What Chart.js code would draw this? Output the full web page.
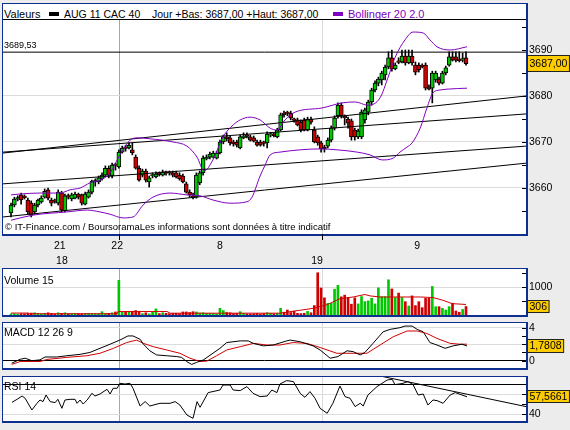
<!DOCTYPE html>
<html><head><meta charset="utf-8">
<script src="https://cdn.jsdelivr.net/npm/chart.js@4.4.1/dist/chart.umd.min.js"></script>
<style>
html,body{margin:0;padding:0;background:#ececec;}
body{width:570px;height:430px;position:relative;overflow:hidden;font-family:"Liberation Sans",Arial,sans-serif;}
.box{position:absolute;box-sizing:border-box;background:#fff;border-style:solid;border-color:#0d2f8f;border-width:1px 2px 2px 1px;}
canvas{position:absolute;left:3px;}
.t{position:absolute;white-space:nowrap;color:#000;line-height:normal;font-size:10.5px;}
.sq{position:absolute;width:10px;height:4px;}
</style></head><body>
<div class="box" style="left:2px;top:3px;width:526px;height:233px"></div>
<div style="position:absolute;left:3px;top:4px;width:523px;height:15px;border-bottom:1px solid #000"></div>
<div class="box" style="left:2px;top:268px;width:526px;height:49px"></div>
<div class="box" style="left:2px;top:322px;width:526px;height:48px"></div>
<div class="box" style="left:2px;top:376px;width:526px;height:47px"></div>
<canvas id="cMain" width="567" height="249" style="top:20px"></canvas>
<canvas id="cVol" width="567" height="46" style="top:269px"></canvas>
<canvas id="cMacd" width="567" height="45" style="top:323px"></canvas>
<canvas id="cRsi" width="567" height="44" style="top:377px"></canvas>
<div class="t" style="left:4px;top:8px;font-size:11px">Valeurs</div>
<div class="sq" style="left:49px;top:12px;background:#000"></div>
<div class="t" style="left:64px;top:8px">AUG 11 CAC 40</div>
<div class="t" style="left:152px;top:8px">Jour +Bas: 3687,00 +Haut: 3687,00</div>
<div class="sq" style="left:333px;top:12px;background:#8000c0"></div>
<div class="t" style="left:348px;top:8px;color:#8000c0;font-size:11px">Bollinger 20 2.0</div>
<div class="t" style="left:5px;top:221px;font-size:9.5px">© IT-Finance.com / BoursoramaLes informations sont données à titre indicatif</div>
<div class="t" style="left:4px;top:274px">Volume 15</div>
<div class="t" style="left:4px;top:326px">MACD 12 26 9</div>
<div class="t" style="left:4px;top:380px">RSI 14</div>
<script>
// ---------- DATA ----------
const open = [
3654.6,3656.3,3657.6,3658.5,3658.0,3657.4,3656.7,3654.8,3656.3,3657.0,
3658.0,3659.6,3657.4,3657.2,3656.7,3658.9,3655.0,3658.3,3657.6,3657.8,
3658.7,3658.5,3656.5,3658.0,3659.1,3661.3,3661.3,3662.0,3662.8,3664.3,
3662.6,3665.0,3664.6,3667.8,3668.7,3668.7,3668.3,3666.7,3664.3,3662.8,
3663.7,3661.3,3662.6,3662.4,3663.0,3662.8,3663.3,3663.3,3663.3,3663.3,
3662.8,3662.6,3660.9,3659.1,3658.0,3658.0,3661.1,3663.3,3666.3,3666.7,
3666.7,3666.5,3667.6,3670.0,3671.1,3670.9,3670.0,3670.0,3668.7,3670.9,
3671.3,3671.1,3670.9,3670.0,3670.0,3669.8,3669.8,3671.5,3671.5,3671.1,
3672.6,3676.3,3676.3,3676.3,3674.8,3674.8,3674.3,3674.8,3672.6,3675.0,
3672.6,3671.1,3669.8,3668.9,3669.1,3670.4,3673.0,3675.7,3678.0,3675.4,
3675.0,3674.6,3672.6,3671.1,3671.1,3674.8,3676.5,3678.7,3681.3,3682.8,
3683.5,3684.6,3686.3,3688.3,3685.9,3687.4,3687.4,3688.7,3687.2,3688.7,
3686.7,3686.7,3686.5,3686.7,3682.0,3681.7,3683.5,3683.7,3682.8,3685.0,
3686.7,3688.5,3688.5,3687.8,3687.8,3688.3];
const high = [
3656.7,3658.0,3658.3,3658.9,3658.5,3657.8,3657.2,3656.7,3657.6,3658.3,
3659.8,3660.0,3657.8,3657.6,3659.6,3659.3,3658.7,3658.7,3658.9,3659.1,
3658.9,3658.7,3659.1,3659.6,3661.7,3662.0,3662.6,3663.3,3664.8,3664.8,
3665.4,3665.4,3668.3,3669.1,3669.3,3669.8,3669.8,3667.2,3664.8,3664.1,
3664.1,3662.6,3663.3,3663.5,3663.5,3663.9,3663.7,3663.7,3663.7,3663.7,
3663.3,3663.0,3661.3,3659.6,3658.9,3663.3,3663.7,3667.0,3667.2,3667.8,
3668.0,3668.0,3670.4,3671.5,3672.0,3671.3,3670.4,3670.4,3671.5,3672.0,
3672.0,3671.5,3671.3,3670.4,3670.4,3670.2,3672.2,3672.0,3672.0,3673.0,
3676.3,3676.7,3676.7,3676.7,3675.2,3675.2,3674.8,3675.2,3675.4,3675.4,
3673.3,3671.5,3670.2,3669.3,3670.9,3673.5,3675.7,3678.5,3678.5,3675.9,
3675.4,3675.0,3673.0,3672.8,3677.0,3677.4,3679.1,3681.7,3683.3,3684.1,
3685.4,3686.7,3689.6,3690.0,3687.2,3688.3,3690.0,3690.0,3690.0,3690.0,
3687.4,3687.2,3687.0,3687.2,3682.4,3685.4,3685.4,3684.1,3685.4,3686.5,
3689.6,3689.6,3689.6,3689.6,3689.3,3689.6];
const low = [
3653.7,3655.9,3657.2,3656.5,3657.6,3654.3,3653.7,3654.3,3655.9,3656.7,
3657.8,3657.4,3656.1,3656.7,3656.3,3654.8,3654.8,3657.6,3657.2,3657.6,
3657.6,3656.3,3656.3,3657.8,3658.7,3660.4,3660.9,3661.7,3662.4,3662.2,
3662.2,3663.9,3664.3,3667.6,3668.0,3668.5,3667.2,3664.1,3661.5,3662.4,
3661.3,3660.2,3662.2,3662.2,3662.6,3662.6,3662.8,3662.8,3662.4,3662.2,
3661.7,3661.1,3658.9,3658.0,3657.6,3657.8,3660.7,3662.8,3666.1,3666.3,
3666.5,3666.3,3667.4,3669.6,3670.2,3669.3,3669.1,3668.9,3668.5,3670.7,
3670.9,3670.2,3670.0,3669.1,3669.1,3669.1,3668.7,3671.1,3671.1,3670.9,
3672.4,3675.4,3675.7,3674.8,3674.3,3673.5,3672.2,3672.4,3672.4,3673.9,
3669.8,3669.3,3667.8,3667.8,3668.7,3670.0,3672.6,3675.2,3675.2,3673.7,
3673.0,3670.4,3670.4,3670.7,3670.7,3674.1,3675.9,3678.0,3680.9,3682.2,
3682.4,3683.5,3685.9,3685.4,3685.7,3687.0,3687.2,3686.7,3687.0,3686.7,
3684.6,3685.2,3686.1,3681.3,3681.3,3678.5,3683.0,3682.4,3682.6,3684.6,
3686.5,3687.6,3687.4,3687.4,3687.4,3686.7];
const close = [
3656.3,3657.6,3657.8,3657.4,3657.9,3654.8,3654.1,3656.3,3657.4,3657.8,
3659.3,3657.8,3656.7,3657.1,3659.1,3655.2,3658.3,3658.0,3658.5,3658.7,
3658.0,3656.7,3658.7,3659.1,3661.5,3661.5,3662.2,3662.8,3664.3,3662.8,
3665.0,3664.9,3667.8,3668.7,3668.6,3669.3,3667.6,3664.3,3661.7,3663.7,
3661.7,3662.2,3662.8,3663.0,3662.9,3663.5,3663.2,3663.2,3662.8,3662.4,
3662.0,3661.3,3659.1,3658.5,3657.9,3662.8,3663.3,3666.5,3666.7,3667.4,
3667.6,3667.6,3670.0,3671.1,3670.7,3669.8,3669.6,3669.3,3671.1,3671.3,
3671.2,3670.4,3670.2,3669.3,3669.3,3669.7,3671.7,3671.6,3671.4,3672.6,
3675.9,3675.9,3676.2,3675.2,3674.7,3673.7,3672.6,3672.6,3675.0,3674.3,
3670.0,3669.8,3668.5,3668.5,3670.4,3673.0,3675.2,3678.0,3675.7,3675.3,
3674.1,3671.1,3671.1,3672.4,3676.5,3677.0,3678.7,3681.3,3682.8,3683.7,
3685.0,3686.3,3688.3,3685.9,3686.7,3687.3,3688.7,3687.2,3688.7,3687.2,
3685.2,3685.7,3686.4,3681.7,3681.5,3685.0,3685.0,3682.8,3685.0,3686.1,
3688.5,3687.8,3687.8,3687.7,3687.9,3687.0];
const volume = [
40,45,30,50,45,70,70,80,60,40,
55,80,55,30,80,60,80,40,50,55,
45,40,60,50,55,40,45,120,45,60,
80,110,1250,110,130,110,130,160,110,50,
80,40,110,220,50,80,60,50,60,60,
50,110,110,90,120,110,70,80,60,60,
50,40,240,160,90,80,50,60,120,50,
40,30,40,60,30,50,80,60,40,60,
240,100,180,90,140,60,50,60,130,80,
340,1525,975,620,420,420,930,1070,655,715,
630,390,620,400,665,485,510,605,400,980,
660,660,1270,940,630,790,630,480,325,690,
340,480,265,600,600,1030,300,300,240,180,
300,425,145,100,200,306];
const volMaIdx = [0,4.7,5.6,31.5,31.8,46.3,47.2,79.8,89.6,93.8,97.6,101.5,105,106.5,109.5,113.4,117.5,121.4,125.2,128.2,130.9,135];
const volMaVal = [70,70,45,45,125,125,65,65,240,370,590,650,740,690,650,650,650,650,630,530,410,380];

const bbUpIdx = [0,2.7,8.6,14.5,17.5,20.5,23.4,26.4,29.4,31.8,33.8,35.3,37.4,41.2,48.1,52.2,55.2,57.3,59.9,62.9,65.9,68.0,70.9,73.9,76.9,78.9,81.3,84.3,92.3,98.2,102.1,105.9,109.5,111.9,113.9,116.9,119.3,122.3,124.3,126.4,130.3,135.3];
const bbUpper = [3658.5,3658.7,3658.9,3658.9,3659.6,3660.0,3661.1,3661.7,3663.3,3666.5,3668.9,3670.4,3670.9,3670.7,3670.0,3669.1,3666.7,3663.7,3666.1,3671.1,3673.7,3674.8,3675.4,3674.8,3673.0,3672.6,3674.8,3676.5,3677.4,3678.5,3678.7,3678.0,3679.6,3684.1,3688.3,3692.2,3693.9,3693.7,3692.2,3690.7,3690.0,3690.7];
const bbLowIdx = [0,6.5,16.6,22.6,26.4,29.4,33.2,36.2,39.2,42.1,47.2,52.2,56.1,59.9,65.0,70.0,71.5,73.9,75.4,76.9,79.8,85.8,91.7,96.7,102.7,106.5,110.1,113.4,115.4,117.5,119.0,121.4,123.4,125.2,127.3,129.7,135.3];
const bbLower = [3653.0,3654.1,3654.8,3655.2,3654.8,3654.3,3653.5,3653.7,3656.3,3658.0,3658.9,3658.5,3658.3,3657.4,3656.7,3657.0,3658.0,3662.6,3665.0,3667.2,3667.8,3668.3,3668.5,3668.3,3667.8,3667.2,3666.1,3666.5,3667.8,3668.9,3669.8,3673.0,3677.4,3680.7,3681.3,3681.5,3681.7];

const trendStart = [3667.6, 3667.8, 3660.9, 3653.7];
const trendEnd   = [3680.0, 3676.1, 3669.1, 3665.4];
const levelValue = 3689.53;

const macdIdx = [0.2,2.7,4.2,6.2,8.6,10.1,13.6,16.6,20.5,23.4,26.4,29.4,32.3,34.7,36.2,38.3,39.3,41.2,43.2,46.2,49.2,50.6,52.1,53.6,55.1,57.1,62.0,64.0,68.0,70.4,71.9,74.9,77.8,81.8,82.8,85.8,89.6,91.7,94.7,97.0,99.7,101.5,103.6,105.0,107.4,110.4,112.5,115.4,116.9,119.0,120.5,122.3,124.3,126.4,128.8,131.2,133.8,135.3];
const macdVal = [-0.3,0.17,0.3,0.0,0.1,0.45,0.45,0.6,0.77,1.0,1.5,2.0,2.5,3.0,3.0,2.6,2.0,1.2,0.7,0.6,0.5,0.4,-0.1,-0.45,-0.2,0.1,1.5,2.2,2.4,2.4,2.1,1.8,1.9,2.4,2.5,2.3,1.8,1.3,0.3,0.5,1.2,1.1,0.7,1.0,2.1,3.5,3.8,4.0,4.2,4.2,3.8,3.5,2.2,1.9,1.5,1.8,2.0,1.7808];
const sigIdx = [0.2,2.7,8.6,10.6,16.5,22.5,26.4,30.4,34.3,37.3,39.3,42.2,46.2,50.1,53.1,56.1,58.1,61.0,64.0,68.0,71.9,75.9,79.8,83.7,87.8,91.7,96.7,101.5,105.6,109.5,113.4,117.5,120.5,123.4,126.4,130.3,133.2,135.3];
const sigVal = [-0.45,-0.1,-0.1,0.15,0.4,0.6,0.9,1.5,2.2,2.5,2.1,1.7,1.3,0.9,0.3,-0.1,-0.05,0.6,1.3,1.7,2.1,1.9,1.9,2.2,2.1,1.6,0.9,0.9,0.9,1.9,2.9,3.6,3.6,3.3,2.7,2.1,2.0,2.0];

const rsiIdx = [0.3,1.8,3.3,4.2,6.2,7.7,8.6,9.5,10.4,11.6,13.1,13.9,15.1,16.0,17.5,19.0,19.6,20.5,21.4,22.6,24.0,24.9,26.4,28.5,29.4,30.3,31.5,32.3,33.8,35.3,36.2,38.3,39.8,41.2,44.2,47.2,48.7,50.1,52.2,54.0,55.2,56.1,58.5,62.0,62.9,65.0,65.9,68.0,70.0,71.8,73.9,76.0,77.4,78.9,79.8,81.8,83.8,85.8,87.2,88.7,90.2,91.7,93.8,95.5,97.6,99.1,100.6,102.1,103.6,104.5,105.9,108.6,111.6,113.1,113.9,116.0,117.8,119.3,120.8,122.3,123.7,125.2,126.4,128.2,130.3,131.8,133.8,135.3];
const rsiVal = [52,55,58.3,56,44.3,51,54.3,52.7,59.3,52.7,51.7,55,46,54.3,55,55,51,54.3,50.3,54.3,61,58.3,60.3,65,60.3,66,66,71,70.3,71,66,48.3,52.7,48.3,51,51,52.7,49.3,39.3,36,52.7,47,61.7,64.3,69.3,69.3,64.3,63.7,67.7,61,57.7,58.3,64.3,61.7,70.3,73.7,72.7,61,57,62.7,56,46,41,51,68.3,57.7,56,47.7,51,48.3,59.3,67.7,74.3,75,69.7,70.7,72.7,69.7,59.3,60.3,49.3,54.3,53.7,51,59.3,61.7,59.3,57.5661];
const rsiTrendIdx = [110.4, 152.8];
const rsiTrendVal = [77.7, 47.7];

const priceTicks = [3655,3660,3665,3670,3675,3680,3685,3690,3695];
const volTicks = [500,1000,1500];
const macdTicks = [0,1,2,3,4];
const rsiTicks = [40,50,60,70];
const row1Idx = [14.5, 31.5, 62.0, 120.5];
const row1Labels = ['21','22','8','9'];
const row2Idx = [15.1, 90.8];
const row2Labels = ['18','19'];
const sessionIdx = [32.3, 92.3];

// ---------- STYLE / LAYOUT ----------
const F = '"Liberation Sans", Arial, sans-serif';
Chart.defaults.font.family = F;
const GREEN = '#00c800', RED = '#d00000', PURPLE = '#8000c0', GRID = '#dcdcdc';
const X_MIN = -2.374, X_MAX = 152.8;
const N = close.length;
const idx = close.map((_, i) => i);
const candleColor = idx.map(i => close[i] >= open[i] ? GREEN : RED);
const fmt = (v, d) => v.toFixed(d).replace('.', ',');
const pts = (xs, ys) => xs.map((x, k) => ({x, y: ys[k]}));

const valueBox = {
  id: 'valueBox',
  afterDraw(chart, args, o) {
    if (!o || o.value == null) return;
    const ctx = chart.ctx, y = chart.scales.y.getPixelForValue(o.value);
    ctx.save();
    ctx.font = '10.5px ' + F;
    const w = ctx.measureText(o.text).width;
    const x0 = chart.chartArea.right + 1, h = o.h || 14, top = Math.round(y - h / 2);
    ctx.fillStyle = '#ffcc00';
    ctx.fillRect(x0, top, w + 5, h);
    ctx.strokeStyle = '#222'; ctx.lineWidth = 1;
    ctx.strokeRect(x0 + 0.5, top + 0.5, w + 4, h - 1);
    ctx.fillStyle = '#000'; ctx.textBaseline = 'middle'; ctx.textAlign = 'left';
    ctx.fillText(o.text, x0 + 2.5, top + h / 2 + 0.5);
    ctx.restore();
  }
};
const innerTicks = {
  id: 'innerTicks',
  afterDraw(chart) {
    const s = chart.scales.y, ctx = chart.ctx, r = chart.chartArea.right;
    ctx.save(); ctx.strokeStyle = '#000'; ctx.lineWidth = 1;
    s.ticks.forEach(t => {
      const y = Math.round(s.getPixelForValue(t.value)) + 0.5;
      ctx.beginPath(); ctx.moveTo(r - 4, y); ctx.lineTo(r, y); ctx.stroke();
    });
    ctx.restore();
  }
};
const levelLabel = {
  id: 'levelLabel',
  afterDraw(chart, args, o) {
    if (!o || o.value == null) return;
    const ctx = chart.ctx, y = chart.scales.y.getPixelForValue(o.value);
    ctx.save(); ctx.font = '9px ' + F; ctx.fillStyle = '#000';
    ctx.textBaseline = 'alphabetic'; ctx.textAlign = 'left';
    ctx.fillText(o.text, chart.chartArea.left + 1, y - 4.5);
    ctx.restore();
  }
};

function yScale(min, max, ticks, labelFn, gridFn) {
  return {
    position: 'right', min, max, beginAtZero: false,
    afterBuildTicks: s => { s.ticks = ticks.map(v => ({value: v})); },
    afterFit: s => { s.width = 44; s.paddingTop = 0; s.paddingBottom = 0; },
    grid: { color: c => gridFn(c.tick ? c.tick.value : null), drawTicks: false, lineWidth: 1 },
    border: { display: false },
    ticks: { autoSkip: false, padding: 3, color: '#000', font: {family: F, size: 10.5}, callback: v => labelFn(v) }
  };
}
function xSession(tickLen) {
  return {
    type: 'linear', position: 'bottom', weight: 0, min: X_MIN, max: X_MAX, offset: false,
    afterBuildTicks: s => { s.ticks = sessionIdx.map(v => ({value: v})); },
    afterFit: s => { s.height = tickLen; s.paddingLeft = 0; s.paddingRight = 0; },
    grid: { offset: false, color: c => c.index === 0 ? '#a8a8a8' : '#dadada', drawTicks: tickLen > 0, tickLength: tickLen, tickColor: '#000' },
    border: { display: false },
    ticks: { display: false }
  };
}
function xRow(pos, labels, h, w) {
  return {
    type: 'linear', position: 'bottom', weight: w, min: X_MIN, max: X_MAX, offset: false,
    afterBuildTicks: s => { s.ticks = pos.map(v => ({value: v})); },
    afterFit: s => { s.height = h; s.paddingLeft = 0; s.paddingRight = 0; },
    grid: { display: false, drawTicks: false },
    border: { display: false },
    ticks: { autoSkip: false, maxRotation: 0, padding: 0, color: '#000', font: {family: F, size: 10.5}, callback: (v, i) => labels[i] }
  };
}
const baseOpts = {
  responsive: false, animation: false, events: [],
  layout: { padding: 0 },
};
const lineDs = (data, color, extra) => Object.assign({type: 'line', data, borderColor: color, borderWidth: 1, pointRadius: 0, fill: false, order: 1}, extra || {});

// ---------- MAIN ----------
const mainDatasets = [
  {type: 'bar', data: idx.map(i => ({x: i, y: [low[i], high[i]]})), backgroundColor: '#000', borderWidth: 0, barThickness: 1, grouped: false, order: 3},
  {type: 'bar', data: idx.map(i => ({x: i, y: [open[i], close[i]]})), backgroundColor: candleColor, borderColor: '#000', borderWidth: 1, borderSkipped: false, barThickness: 4, grouped: false, minBarLength: 1.5, order: 2},
  lineDs(pts(bbUpIdx, bbUpper), PURPLE, {cubicInterpolationMode: 'monotone'}),
  lineDs(pts(bbLowIdx, bbLower), PURPLE, {cubicInterpolationMode: 'monotone'}),
  lineDs(pts([X_MIN, X_MAX], [levelValue, levelValue]), '#000'),
];
trendStart.forEach((v, k) => mainDatasets.push(lineDs(pts([X_MIN, X_MAX], [v, trendEnd[k]]), '#000')));

new Chart(document.getElementById('cMain'), {
  type: 'bar',
  data: { datasets: mainDatasets },
  options: Object.assign({}, baseOpts, {
    scales: {
      x: xSession(6),
      x1: xRow(row1Idx, row1Labels, 15, 1),
      x2: xRow(row2Idx, row2Labels, 14, 2),
      y: yScale(3650.0, 3696.52, priceTicks, v => v % 10 === 0 ? String(v) : '',
                v => (v === 3660 || v === 3670 || v === 3680) ? GRID : 'rgba(0,0,0,0)')
    },
    plugins: { legend: {display: false}, tooltip: {enabled: false},
      valueBox: { value: close[N - 1], text: fmt(close[N - 1], 2), h: 17 },
      levelLabel: { value: levelValue, text: fmt(levelValue, 2) } }
  }),
  plugins: [valueBox, innerTicks, levelLabel]
});

// ---------- VOLUME ----------
new Chart(document.getElementById('cVol'), {
  type: 'bar',
  data: { datasets: [
    {type: 'bar', data: idx.map(i => ({x: i, y: volume[i]})), backgroundColor: candleColor, borderWidth: 0, barThickness: 2, grouped: false, order: 2},
    lineDs(pts(volMaIdx, volMaVal), RED)
  ]},
  options: Object.assign({}, baseOpts, {
    scales: {
      x: xSession(0),
      y: yScale(0, 1660, volTicks, v => v === 1000 ? '1000' : '', v => v === 1000 ? GRID : 'rgba(0,0,0,0)')
    },
    plugins: { legend: {display: false}, tooltip: {enabled: false},
      valueBox: { value: volume[N - 1], text: String(volume[N - 1]), h: 13 } }
  }),
  plugins: [valueBox, innerTicks]
});

// ---------- MACD ----------
new Chart(document.getElementById('cMacd'), {
  type: 'line',
  data: { datasets: [
    lineDs(pts(sigIdx, sigVal), RED, {order: 2}),
    lineDs(pts(macdIdx, macdVal), '#000'),
  ]},
  options: Object.assign({}, baseOpts, {
    scales: {
      x: xSession(0),
      y: yScale(-0.885, 4.57, macdTicks, v => (v === 0 || v === 4) ? String(v) : '',
                v => v === 0 ? '#000' : (v === 2 || v === 4 ? GRID : 'rgba(0,0,0,0)'))
    },
    plugins: { legend: {display: false}, tooltip: {enabled: false},
      valueBox: { value: macdVal[macdVal.length - 1], text: fmt(macdVal[macdVal.length - 1], 4), h: 14 } }
  }),
  plugins: [valueBox, innerTicks]
});

// ---------- RSI ----------
new Chart(document.getElementById('cRsi'), {
  type: 'line',
  data: { datasets: [
    lineDs(pts(rsiIdx, rsiVal), '#000'),
    lineDs(pts(rsiTrendIdx, rsiTrendVal), '#000'),
  ]},
  options: Object.assign({}, baseOpts, {
    scales: {
      x: xSession(0),
      y: yScale(33.3, 77.3, rsiTicks, v => v === 40 ? '40' : '',
                v => v === 70 ? '#000' : (v === 40 || v === 60 ? GRID : 'rgba(0,0,0,0)'))
    },
    plugins: { legend: {display: false}, tooltip: {enabled: false},
      valueBox: { value: rsiVal[rsiVal.length - 1], text: fmt(rsiVal[rsiVal.length - 1], 4), h: 13 } }
  }),
  plugins: [valueBox, innerTicks]
});
</script>
</body></html>
